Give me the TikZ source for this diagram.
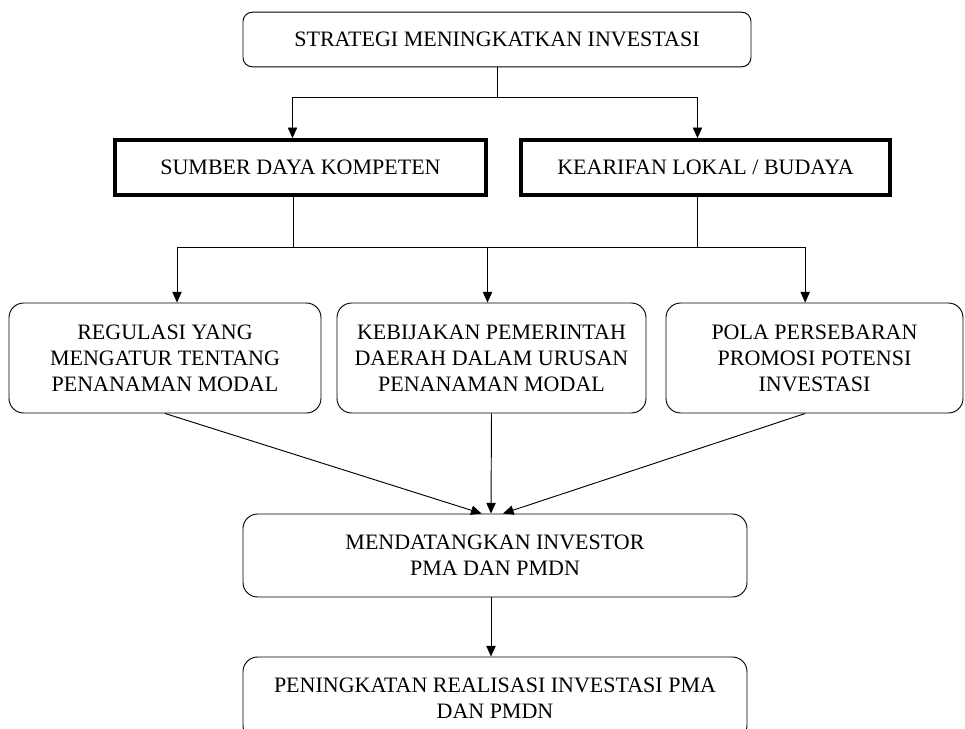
\documentclass[tikz,border=0pt]{standalone}
\usepackage{fontspec}
\setmainfont{Liberation Serif}
\usetikzlibrary{arrows.meta}

\begin{document}
\begin{tikzpicture}[x=0.75pt,y=-0.75pt,>={Triangle[length=8pt,width=7pt]},line width=0.7pt,
		box/.style={draw,rounded corners=11pt,align=center,inner sep=0pt,font=\fontsize{16.5}{19.5}\selectfont},
		thickbox/.style={draw,line width=3pt,align=center,inner sep=0pt,font=\fontsize{16.5}{19.5}\selectfont}]
  			\clip (0,0) rectangle (965,729);

  			\node[box, rounded corners=7pt, minimum width=381pt, minimum height=41pt] (top) at (497,39.5) {STRATEGI MENINGKATKAN INVESTASI};
  			\node[thickbox, minimum width=278pt, minimum height=41pt]  (sdk)  at (300.5,167.5) {SUMBER DAYA KOMPETEN};
  			\node[thickbox, minimum width=277pt, minimum height=41pt]  (kea)  at (705.5,167.5) {KEARIFAN LOKAL / BUDAYA};
  			\node[box, minimum width=234pt, minimum height=82.5pt]     (reg)  at (165,358)     {REGULASI YANG\\MENGATUR TENTANG\\PENANAMAN MODAL};
  			\node[box, minimum width=231.75pt, minimum height=82.5pt]  (keb)  at (491.5,358)   {KEBIJAKAN PEMERINTAH\\DAERAH DALAM URUSAN\\PENANAMAN MODAL};
  			\node[box, minimum width=222.75pt, minimum height=82.5pt]  (pola) at (814.5,358)   {POLA PERSEBARAN\\PROMOSI POTENSI\\INVESTASI};
  			\node[box, minimum width=378pt, minimum height=62.25pt]    (mend) at (495,555.5)   {MENDATANGKAN INVESTOR\\PMA DAN PMDN};
  			\node[box, minimum width=378pt, minimum height=62.25pt]    (pen)  at (495,698.5)   {PENINGKATAN REALISASI INVESTASI PMA\\DAN PMDN};

  			% strategi ke dua pilar
  			\draw[->] (top.south) -- ++(0,30) -| ([xshift=-6pt]sdk.north);
  			\draw[->] (top.south) -- ++(0,30) -| ([xshift=-6pt]kea.north);

  			% pilar ke tiga kebijakan
  			\draw ([xshift=-5pt]sdk.south) -- ++(0,51) coordinate (busA);
  			\draw ([xshift=-6pt]kea.south) -- ++(0,51) coordinate (busB);
  			\draw (busA) -- (busB);
  			\draw[->] (busA) -| ([xshift=9pt]reg.north);
  			\draw[->] (busA) -| ([xshift=-3pt]keb.north);
  			\draw[->] (busB) -| ([xshift=-7pt]pola.north);

  			\draw[->] (reg.south) -- ([xshift=-10pt]mend.north);
  			\draw[->] (keb.south) -- ([xshift=-3pt]mend.north);
  			\draw[->] ([xshift=-7pt]pola.south) -- ([xshift=6pt]mend.north);
  			\draw[->] ([xshift=-3pt]mend.south) -- ([xshift=-3pt]pen.north);

		\end{tikzpicture}
\end{document}
